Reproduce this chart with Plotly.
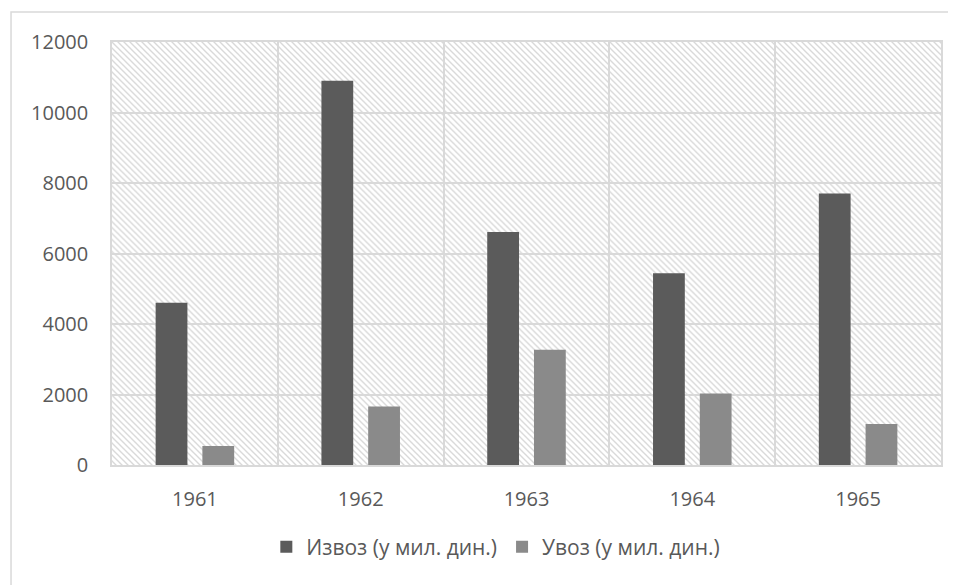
import base64
import plotly.graph_objects as go

years = ["1961", "1962", "1963", "1964", "1965"]
export_vals = [4600, 10900, 6610, 5440, 7700]
import_vals = [540, 1660, 3270, 2030, 1160]
series_names = ["Извоз (у мил. дин.)", "Увоз (у мил. дин.)"]
y_ticks = [0, 2000, 4000, 6000, 8000, 10000, 12000]

FONT = "Open Sans"
TXT = "#595959"
GRID = "#d9d9d9"

# hatched plot background (decorative pattern)
svg = (
    '<svg xmlns="http://www.w3.org/2000/svg" width="829" height="424">'
    '<defs><pattern id="p" patternUnits="userSpaceOnUse" width="6" height="6">'
    '<path d="M-1,-1 L7,7 M-1,5 L1,7 M5,-1 L7,1" stroke="#d9d9d9" stroke-width="1.4"/>'
    '</pattern></defs><rect width="829" height="424" fill="url(#p)"/></svg>'
)
src = "data:image/svg+xml;base64," + base64.b64encode(svg.encode()).decode()

fig = go.Figure()
fig.add_bar(x=years, y=export_vals, name=series_names[0],
            marker=dict(color="#5b5b5b", line=dict(width=0)))
fig.add_bar(x=years, y=import_vals, name=series_names[1],
            marker=dict(color="#8a8a8a", line=dict(width=0)))

fig.update_layout(
    width=948, height=577,
    margin=dict(l=104, r=15, t=34, b=120),
    paper_bgcolor="white", plot_bgcolor="rgba(0,0,0,0)",
    barmode="group", bargap=0.436, bargroupgap=0.32,
    font=dict(family=FONT, size=20, color=TXT),
    showlegend=True,
    legend=dict(orientation="h", x=0.463, xanchor="center", y=-0.194, yanchor="middle",
                font=dict(family=FONT, size=21, color=TXT), itemwidth=30,
                bgcolor="rgba(0,0,0,0)"),
    images=[dict(source=src, xref="paper", yref="paper", x=0, y=1, sizex=1, sizey=1,
                 xanchor="left", yanchor="top", sizing="stretch", layer="below")],
    shapes=[dict(type="rect", xref="paper", yref="paper", x0=-0.1218, x1=1.2,
                 y0=-0.5, y1=1.0708, line=dict(color=GRID, width=1.5),
                 fillcolor="rgba(0,0,0,0)", layer="below")],
)
fig.update_xaxes(showgrid=True, gridcolor=GRID, gridwidth=1.5, tickson="boundaries",
                 ticks="", showline=True, linecolor=GRID, linewidth=1.5, mirror=True,
                 ticklabelstandoff=15, tickfont=dict(size=20, color=TXT))
fig.update_yaxes(range=[0, 12000], tickvals=y_ticks, tickformat="d", showgrid=True,
                 gridcolor=GRID, gridwidth=1.5, zeroline=False, ticks="",
                 showline=True, linecolor=GRID, linewidth=1.5, mirror=True,
                 ticklabelstandoff=18, tickfont=dict(size=20, color=TXT))

fig.write_html("out.html")
